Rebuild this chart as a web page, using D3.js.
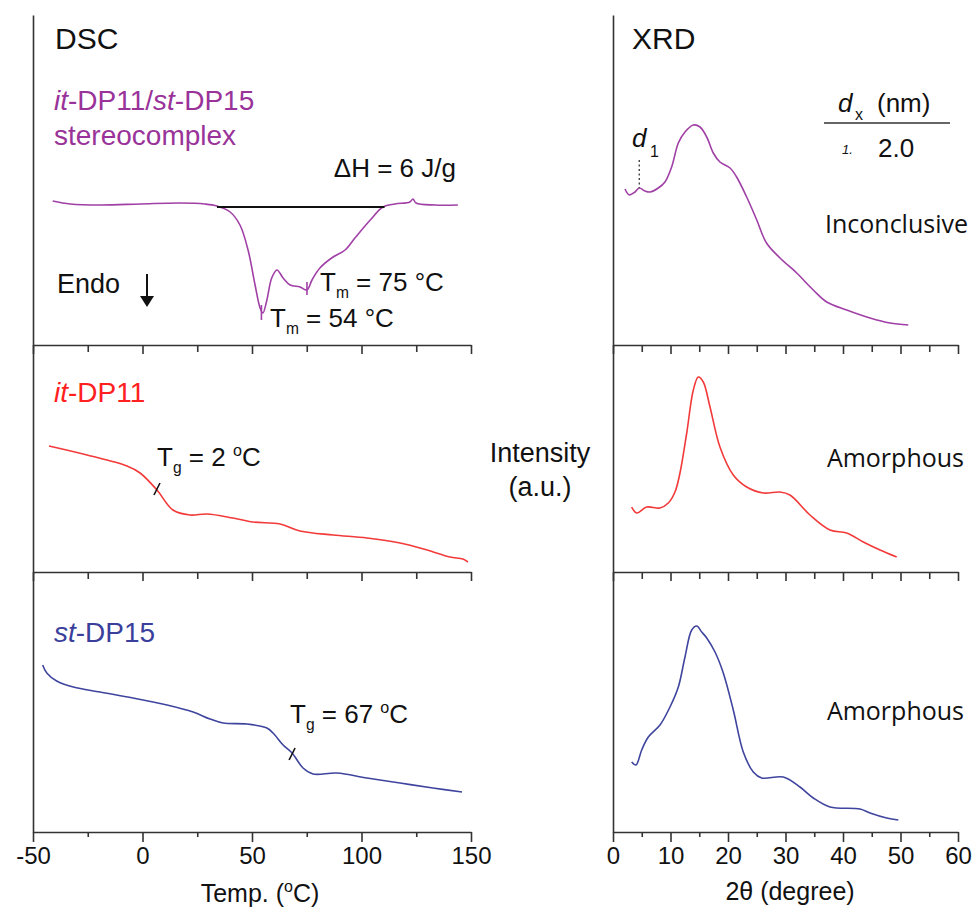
<!DOCTYPE html>
<html><head><meta charset="utf-8">
<script src="https://cdn.jsdelivr.net/npm/d3@7"></script>
<style>body{margin:0;background:#fff}svg{display:block}text{font-family:"Liberation Sans",Arial,sans-serif;fill:#111}</style>
</head><body>
<script>
// ---------- DATA ----------
// DSC: [temperature (°C), heat flow (a.u.)]
const dscStereo = [[-41,0.04],[-33,0.01],[-19,0],[-1,0.01],[17,0.02],[28.5,0.01],[34,-0.01],[40,-0.07],[44.5,-0.2],[48.2,-0.45],[51.4,-0.8],[53.7,-1.03],[55,-1.08],[56.8,-0.95],[59,-0.73],[61.4,-0.65],[64.2,-0.73],[67.4,-0.8],[71.9,-0.82],[75.1,-0.85],[77.4,-0.75],[81,-0.63],[87,-0.52],[92.5,-0.45],[97,-0.33],[104,-0.15],[109.8,-0.02],[115.3,0.01],[122.1,0.03],[123.5,0.06],[124.9,0.02],[133.6,0],[144,0]];
const dscItDP11 = [[-42.7,1.26],[-25.3,1.17],[-7.1,1.06],[-1.1,0.99],[6.6,0.82],[13.9,0.62],[21.7,0.57],[29.5,0.58],[41.3,0.54],[50.5,0.5],[62.8,0.48],[71.9,0.41],[87,0.37],[102.5,0.34],[117.6,0.29],[129.9,0.22],[140.4,0.15],[146.3,0.13],[148.6,0.1]];
const dscStDP15 = [[-45.6,1.67],[-43.7,1.59],[-39.2,1.51],[-31.6,1.45],[-19.4,1.4],[-4.3,1.34],[11.2,1.27],[23.1,1.2],[30.8,1.13],[36.8,1.09],[47.7,1.08],[56.8,1.04],[59.6,0.99],[64.2,0.87],[68.3,0.79],[73.3,0.64],[77.9,0.58],[88.8,0.59],[102.5,0.54],[117.6,0.49],[132.6,0.44],[145.9,0.4]];
// XRD: [2θ (degree), intensity (a.u.)]
const xrdStereo = [[2.09,1.56],[2.83,1.5],[3.83,1.53],[4.57,1.57],[5.57,1.54],[6.43,1.53],[7.88,1.57],[9.04,1.63],[10.2,1.78],[11.36,2.02],[12.52,2.13],[13.97,2.2],[15.13,2.18],[16.3,2.08],[17.44,1.92],[18.6,1.83],[20.35,1.77],[21.5,1.68],[23.25,1.48],[25,1.25],[26.7,1.02],[29.04,0.87],[31.95,0.72],[34.83,0.55],[37.17,0.43],[40.64,0.35],[44.7,0.27],[48.17,0.22],[51.36,0.2]];
const xrdItDP11 = [[3.25,0.65],[4.12,0.59],[5.86,0.65],[8.17,0.64],[9.62,0.69],[10.78,0.8],[11.65,0.99],[12.82,1.39],[13.97,1.82],[14.83,1.95],[15.7,1.9],[16.87,1.65],[18.6,1.25],[20.92,0.97],[23.25,0.85],[26.14,0.79],[29.04,0.8],[30.78,0.77],[34.26,0.57],[37.74,0.42],[40.64,0.39],[43.53,0.3],[46.43,0.22],[49.34,0.15]];
const xrdStDP15 = [[3.25,0.7],[4.0,0.67],[4.99,0.82],[6.14,0.95],[8.17,1.07],[9.91,1.25],[11.36,1.45],[12.52,1.75],[13.69,2.02],[14.56,2.06],[15.43,2.0],[16.3,1.94],[17.74,1.8],[19.18,1.59],[20.92,1.22],[22.66,0.8],[24.4,0.6],[25.86,0.54],[29.62,0.55],[32.52,0.45],[34.83,0.34],[37.74,0.25],[42.96,0.23],[44.7,0.19],[47.6,0.14],[49.62,0.12]];
const dscTicks = [-50, 0, 50, 100, 150];
const dscMinorTicks = [-25, 25, 75, 125];
const xrdTicks = [0, 10, 20, 30, 40, 50, 60];
const xrdMinorTicks = [5, 15, 25, 35, 45, 55];
const xrdVerdicts = ["Inconclusive", "Amorphous", "Amorphous"];
const tmValues = [54, 75];
const tgValues = [2, 67];
const dValues = ["2.0"];

// ---------- LAYOUT ----------
const W = 974, H = 911;
const rows = [[15, 345], [345, 572], [572, 832]];
const colors = ["#a040a6", "#f23a3a", "#3f459e"];
const textColors = ["#993399", "#ff2020", "#3a3f9c"];

const svg = d3.select("body").append("svg").attr("width", W).attr("height", H);

const xDSC = d3.scaleLinear().domain([-50, 150]).range([33, 471]);
const xXRD = d3.scaleLinear().domain([0, 60]).range([613, 958]);
const yDSC = [
  d3.scaleLinear().domain([-1.4, 1.9]).range([345, 15]),
  d3.scaleLinear().domain([0, 2.27]).range([572, 345]),
  d3.scaleLinear().domain([0, 2.6]).range([832, 572])
];
const yXRD = [
  d3.scaleLinear().domain([0, 3.3]).range([345, 15]),
  d3.scaleLinear().domain([0, 2.27]).range([572, 345]),
  d3.scaleLinear().domain([0, 2.6]).range([832, 572])
];

const axisColor = "#333";
function styleAxis(g) {
  g.selectAll("path,line").attr("stroke", axisColor).attr("stroke-width", 1.6);
  g.selectAll("text").attr("fill", "#111");
}

function drawFrame(x, yScales, ticks, minor) {
  rows.forEach((r, i) => {
    svg.append("g").attr("transform", `translate(${x.range()[0]},0)`)
      .call(d3.axisLeft(yScales[i]).tickValues([]).tickSizeOuter(0)).call(styleAxis);
  });
  [1, 2].forEach(i => {
    const y0 = rows[i][0];
    svg.append("g").attr("transform", `translate(0,${y0})`)
      .call(d3.axisBottom(x).tickValues(ticks).tickSize(9).tickSizeOuter(0).tickFormat(""))
      .call(styleAxis);
    svg.append("g").attr("transform", `translate(0,${y0})`)
      .call(d3.axisBottom(x).tickValues(minor).tickSize(7).tickSizeOuter(0).tickFormat(""))
      .call(g => g.select(".domain").remove()).call(styleAxis);
  });
  const yb = rows[2][1];
  svg.append("g").attr("transform", `translate(0,${yb})`)
    .call(d3.axisBottom(x).tickValues(ticks).tickSize(10).tickSizeOuter(0).tickPadding(5).tickFormat(d => String(d)))
    .call(styleAxis)
    .call(g => g.selectAll("text").attr("font-size", 24).attr("font-family", "Liberation Sans, Arial, sans-serif"));
  svg.append("g").attr("transform", `translate(0,${yb})`)
    .call(d3.axisBottom(x).tickValues(minor).tickSize(5).tickSizeOuter(0).tickFormat(""))
    .call(g => g.select(".domain").remove()).call(styleAxis);
}
drawFrame(xDSC, yDSC, dscTicks, dscMinorTicks);
drawFrame(xXRD, yXRD, xrdTicks, xrdMinorTicks);

const line = (x, y) => d3.line().x(d => x(d[0])).y(d => y(d[1])).curve(d3.curveCatmullRom.alpha(0.5));

const dscData = [dscStereo, dscItDP11, dscStDP15];
const xrdData = [xrdStereo, xrdItDP11, xrdStDP15];
dscData.forEach((d, i) => {
  svg.append("path").datum(d).attr("d", line(xDSC, yDSC[i])).attr("fill", "none")
    .attr("stroke", colors[i]).attr("stroke-width", 1.6);
});
xrdData.forEach((d, i) => {
  svg.append("path").datum(d).attr("d", line(xXRD, yXRD[i])).attr("fill", "none")
    .attr("stroke", colors[i]).attr("stroke-width", 1.6);
});

// ΔH baseline
svg.append("line").attr("x1", xDSC(34)).attr("x2", xDSC(110.5))
  .attr("y1", yDSC[0](-0.02)).attr("y2", yDSC[0](-0.02))
  .attr("stroke", "#111").attr("stroke-width", 2);

// Tm tick markers
[[54.3, -1.0, -1.15], [75.1, -0.77, -0.9]].forEach(([t, a, b]) => {
  svg.append("line").attr("x1", xDSC(t)).attr("x2", xDSC(t))
    .attr("y1", yDSC[0](a)).attr("y2", yDSC[0](b))
    .attr("stroke", colors[0]).attr("stroke-width", 1.6);
});

// Tg markers
[[6.6, 0.83, 1], [68.3, 0.78, 2]].forEach(([t, v, i]) => {
  const cx = xDSC(t), cy = yDSC[i](v);
  svg.append("line").attr("x1", cx - 3).attr("y1", cy + 6).attr("x2", cx + 3).attr("y2", cy - 6)
    .attr("stroke", "#111").attr("stroke-width", 1.6);
});

// ---------- TEXT ----------
function txt(x, y, size, opts = {}) {
  const t = svg.append("text").attr("x", x).attr("y", y).attr("font-size", size);
  if (opts.anchor) t.attr("text-anchor", opts.anchor);
  if (opts.fill) t.style("fill", opts.fill);
  if (opts.family) t.style("font-family", opts.family);
  if (opts.italic) t.attr("font-style", "italic");
  return t;
}
txt(55, 49, 30).text("DSC");
txt(632, 49, 30).text("XRD");

const n0 = txt(54, 110, 28, { fill: textColors[0] });
n0.append("tspan").attr("font-style", "italic").text("it");
n0.append("tspan").text("-DP11/");
n0.append("tspan").attr("font-style", "italic").text("st");
n0.append("tspan").text("-DP15");
txt(54, 145, 28, { fill: textColors[0] }).text("stereocomplex");
const n1 = txt(54, 402, 28, { fill: textColors[1] });
n1.append("tspan").attr("font-style", "italic").text("it");
n1.append("tspan").text("-DP11");
const n2 = txt(54, 642, 28, { fill: textColors[2] });
n2.append("tspan").attr("font-style", "italic").text("st");
n2.append("tspan").text("-DP15");

txt(456, 177, 26, { anchor: "end" }).text("ΔH = 6 J/g");
txt(57, 293, 27).text("Endo");
svg.append("line").attr("x1", 147).attr("x2", 147).attr("y1", 274).attr("y2", 300).attr("stroke", "#111").attr("stroke-width", 2);
svg.append("path").attr("d", "M140,296 L154,296 L147,307 Z").attr("fill", "#111");

function subLabel(x, y, main, sub, rest, size, sup) {
  const t = txt(x, y, size);
  t.append("tspan").text(main);
  t.append("tspan").attr("dy", 7).attr("font-size", size * 0.6).text(sub);
  t.append("tspan").attr("dy", -7).text(rest);
  if (sup) {
    t.append("tspan").attr("dy", -10).attr("font-size", size * 0.62).text(sup[0]);
    t.append("tspan").attr("dy", 10).text(sup[1]);
  }
  return t;
}
subLabel(320, 291, "T", "m", ` = ${tmValues[1]} °C`, 26);
subLabel(270, 327, "T", "m", ` = ${tmValues[0]} °C`, 26);
subLabel(157, 466, "T", "g", ` = ${tgValues[0]} `, 26, ["o", "C"]);
subLabel(290, 723, "T", "g", ` = ${tgValues[1]} `, 26, ["o", "C"]);

const tt = txt(260, 902, 25, { anchor: "middle" });
tt.append("tspan").text("Temp. (");
tt.append("tspan").attr("dy", -10).attr("font-size", 16).text("o");
tt.append("tspan").attr("dy", 10).text("C)");
txt(790, 900, 25, { anchor: "middle" }).text("2θ (degree)");
txt(540, 462, 27, { anchor: "middle" }).text("Intensity");
txt(540, 496, 27, { anchor: "middle" }).text("(a.u.)");

const vf = "'Open Sans', Lato, sans-serif";
txt(968, 233, 25, { anchor: "end", family: vf }).text(xrdVerdicts[0]);
txt(964, 467, 25, { anchor: "end", family: vf }).text(xrdVerdicts[1]);
txt(964, 720, 25, { anchor: "end", family: vf }).text(xrdVerdicts[2]);

txt(838, 112, 26, { italic: true }).text("d");
txt(855, 120, 16).text("x");
txt(877, 112, 26).text("(nm)");
svg.append("line").attr("x1", 824).attr("x2", 950).attr("y1", 123).attr("y2", 123).attr("stroke", "#333").attr("stroke-width", 1.6);
txt(842, 154, 13, { italic: true }).text("1.");
txt(878, 157, 26).text(dValues[0]);

txt(632, 147, 26, { italic: true }).text("d");
txt(650, 157, 16).text("1");
svg.append("line").attr("x1", xXRD(4.57)).attr("x2", xXRD(4.57))
  .attr("y1", yXRD[0](1.85)).attr("y2", yXRD[0](1.57))
  .attr("stroke", "#444").attr("stroke-width", 1.4).attr("stroke-dasharray", "2,2.5");
</script>
</body></html>
